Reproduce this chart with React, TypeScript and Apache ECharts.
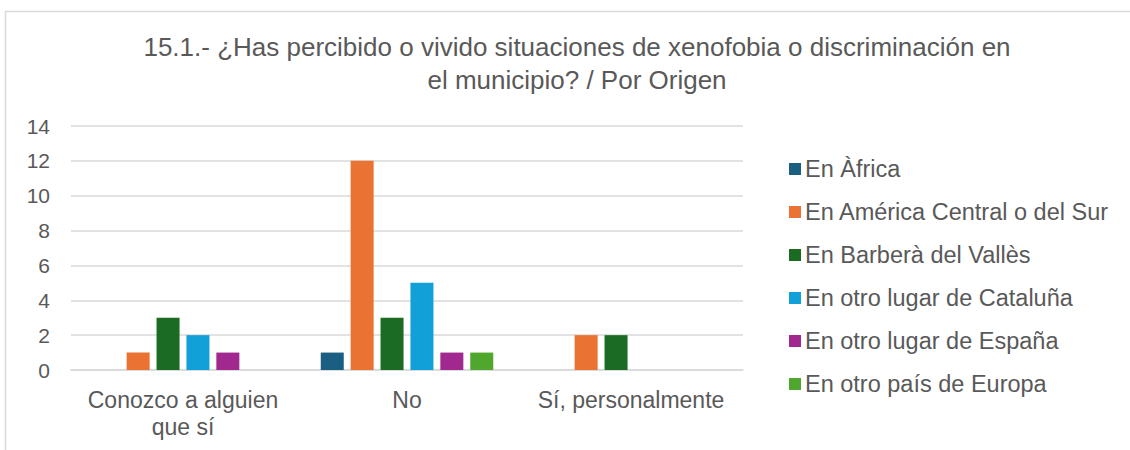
import React, { useEffect, useRef } from "react";
import * as echarts from "echarts";

const categories = ["Conozco a alguien\nque sí", "No", "Sí, personalmente"];
const seriesNames = [
  "En Àfrica",
  "En América Central o del Sur",
  "En Barberà del Vallès",
  "En otro lugar de Cataluña",
  "En otro lugar de España",
  "En otro país de Europa",
];
const africa = [0, 1, 0];
const america = [1, 12, 2];
const barbera = [3, 3, 2];
const cataluna = [2, 5, 0];
const espana = [1, 1, 0];
const europa = [0, 1, 0];
const colors = ["#1a5e82", "#ea7233", "#1b6b23", "#11a0d8", "#a0288f", "#4fa72e"];
const yTicks = { min: 0, max: 14, interval: 2 };

export default function App() {
  const ref = useRef<HTMLDivElement>(null);
  useEffect(() => {
    const chart = echarts.init(ref.current!, null, { renderer: "svg" });
    const values = [africa, america, barbera, cataluna, espana, europa];
    chart.setOption({
      animation: false,
      color: colors,
      textStyle: { fontFamily: "Liberation Sans, Arial, sans-serif" },
      title: {
        text: "15.1.- ¿Has percibido o vivido situaciones de xenofobia o discriminación en\nel municipio? / Por Origen",
        left: 572,
        textAlign: "center",
        top: 25,
        textStyle: {
          color: "#595959",
          fontSize: 26,
          fontWeight: "normal",
          lineHeight: 33,
          fontFamily: "Liberation Sans, Arial, sans-serif",
        },
      },
      graphic: [
        {
          type: "rect",
          shape: { x: 5.5, y: 11.5, width: 1140, height: 460 },
          style: { fill: "none", stroke: "#d9d9d9", lineWidth: 1.5 },
          silent: true,
        },
      ],
      legend: {
        orient: "vertical",
        left: 784,
        top: 152,
        itemWidth: 12,
        itemHeight: 12,
        itemGap: 19,
        icon: "rect",
        textStyle: { color: "#595959", fontSize: 23.5, lineHeight: 24, padding: [0, 0, 0, -1] },
        data: seriesNames,
      },
      grid: { left: 71, right: 387, top: 126, bottom: 80, containLabel: false },
      xAxis: {
        type: "category",
        data: categories,
        axisLine: { lineStyle: { color: "#d9d9d9", width: 1.5 } },
        axisTick: { show: false },
        axisLabel: {
          color: "#595959",
          fontSize: 23,
          lineHeight: 27,
          margin: 16,
          interval: 0,
          hideOverlap: false,
        },
      },
      yAxis: {
        type: "value",
        ...yTicks,
        axisLine: { show: false },
        axisTick: { show: false },
        splitLine: { lineStyle: { color: "#d9d9d9", width: 1.5 } },
        axisLabel: { color: "#595959", fontSize: 21, margin: 21 },
      },
      series: seriesNames.map((name, i) => ({
        name,
        type: "bar",
        data: values[i].map((v) => (v === 0 ? null : v)),
        barWidth: 23,
        barGap: "30%",
      })),
    });
    return () => chart.dispose();
  }, []);
  return (
    <div
      ref={ref}
      style={{ position: "absolute", left: 0, top: 0, width: 1130, height: 450, background: "#fff" }}
    />
  );
}
